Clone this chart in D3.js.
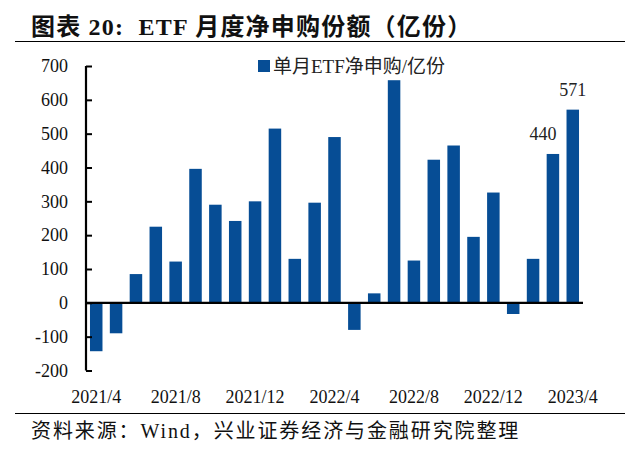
<!DOCTYPE html>
<html>
<head>
<meta charset="utf-8">
<script src="https://cdn.jsdelivr.net/npm/d3@7"></script>
<style>
  html, body { margin: 0; padding: 0; background: #fff; }
  svg { display: block; }
</style>
</head>
<body>
<svg id="chart" width="640" height="453"></svg>
<script>
const months = ["2021/4","2021/5","2021/6","2021/7","2021/8","2021/9","2021/10","2021/11","2021/12",
  "2022/1","2022/2","2022/3","2022/4","2022/5","2022/6","2022/7","2022/8","2022/9","2022/10","2022/11","2022/12",
  "2023/1","2023/2","2023/3","2023/4"];
const netSubscription = [-143, -90, 85, 225, 122, 396, 290, 242, 300,
  515, 130, 296, 490, -80, 28, 658, 125, 423, 465, 195, 326,
  -33, 130, 440, 571];
const yTicks = [-200, -100, 0, 100, 200, 300, 400, 500, 600, 700];
const xTickLabels = ["2021/4","2021/8","2021/12","2022/4","2022/8","2022/12","2023/4"];
const annotated = [{month: "2023/3", value: 440, dx: -10}, {month: "2023/4", value: 571, dx: 0}];
const titleText = "图表 20:  ETF 月度净申购份额（亿份）";
const legendText = "单月ETF净申购/亿份";
const sourceText = "资料来源：Wind，兴业证券经济与金融研究院整理";

const svg = d3.select("#chart");
const serif = "'Liberation Serif', 'Times New Roman', 'Noto Sans CJK SC', serif";
const cjk = "'Liberation Serif', 'Noto Sans CJK SC', sans-serif";
const barColor = "#064d95";

// title
svg.append("text").attr("x", 31).attr("y", 35)
  .attr("font-family", cjk).attr("font-weight", "bold").attr("font-size", 24)
  .attr("letter-spacing", 1.2).style("white-space", "pre")
  .attr("fill", "#111").text(titleText);
svg.append("line").attr("x1", 15).attr("x2", 625).attr("y1", 41.5).attr("y2", 41.5)
  .attr("stroke", "#000").attr("stroke-width", 1);

// scales
const x = d3.scaleBand().domain(months).range([86, 583]).paddingInner(0.37).paddingOuter(0.2);
const y = d3.scaleLinear().domain([-200, 700]).range([370.5, 66]);

// bars
svg.append("g").selectAll("rect").data(netSubscription).join("rect")
  .attr("x", (d, i) => x(months[i]))
  .attr("width", x.bandwidth())
  .attr("y", d => y(Math.max(0, d)))
  .attr("height", d => Math.abs(y(d) - y(0)))
  .attr("fill", barColor);

// y axis
const yAxis = d3.axisRight(y).tickValues(yTicks).tickSize(6).tickFormat("");
const yg = svg.append("g").attr("transform", "translate(86,0)").call(yAxis);
yg.select(".domain").attr("stroke", "#000").attr("stroke-width", 2.2)
  .attr("d", `M0,${y(700)}V${y(-200)}`);
yg.selectAll(".tick line").attr("stroke", "#000").attr("stroke-width", 2);
svg.append("g").selectAll("text").data(yTicks).join("text")
  .attr("x", 68).attr("y", d => y(d)).attr("dy", "0.35em")
  .attr("text-anchor", "end").attr("font-family", serif).attr("font-size", 18)
  .attr("fill", "#111").text(d => d);

// zero line
svg.append("line").attr("x1", 86).attr("x2", 583).attr("y1", y(0)).attr("y2", y(0))
  .attr("stroke", "#000").attr("stroke-width", 2.2);

// x labels
svg.append("g").selectAll("text").data(xTickLabels).join("text")
  .attr("x", d => x(d) + x.bandwidth() / 2).attr("y", 403)
  .attr("text-anchor", "middle").attr("font-family", serif).attr("font-size", 18)
  .attr("fill", "#111").text(d => d);

// annotations
svg.append("g").selectAll("text").data(annotated).join("text")
  .attr("x", d => x(d.month) + x.bandwidth() / 2 + d.dx)
  .attr("y", d => y(d.value) - 14)
  .attr("text-anchor", "middle").attr("font-family", serif).attr("font-size", 18)
  .attr("fill", "#222").text(d => d.value);

// legend
svg.append("rect").attr("x", 258).attr("y", 60).attr("width", 12).attr("height", 12).attr("fill", barColor);
svg.append("text").attr("x", 273).attr("y", 66).attr("dy", "0.35em")
  .attr("font-family", cjk).attr("font-size", 19).attr("fill", "#222").text(legendText);

// bottom rule & source
svg.append("line").attr("x1", 15).attr("x2", 625).attr("y1", 413.5).attr("y2", 413.5)
  .attr("stroke", "#000").attr("stroke-width", 1);
svg.append("text").attr("x", 31).attr("y", 438)
  .attr("font-family", cjk).attr("font-size", 20).attr("letter-spacing", 1.9)
  .attr("fill", "#111").text(sourceText);
</script>
</body>
</html>
